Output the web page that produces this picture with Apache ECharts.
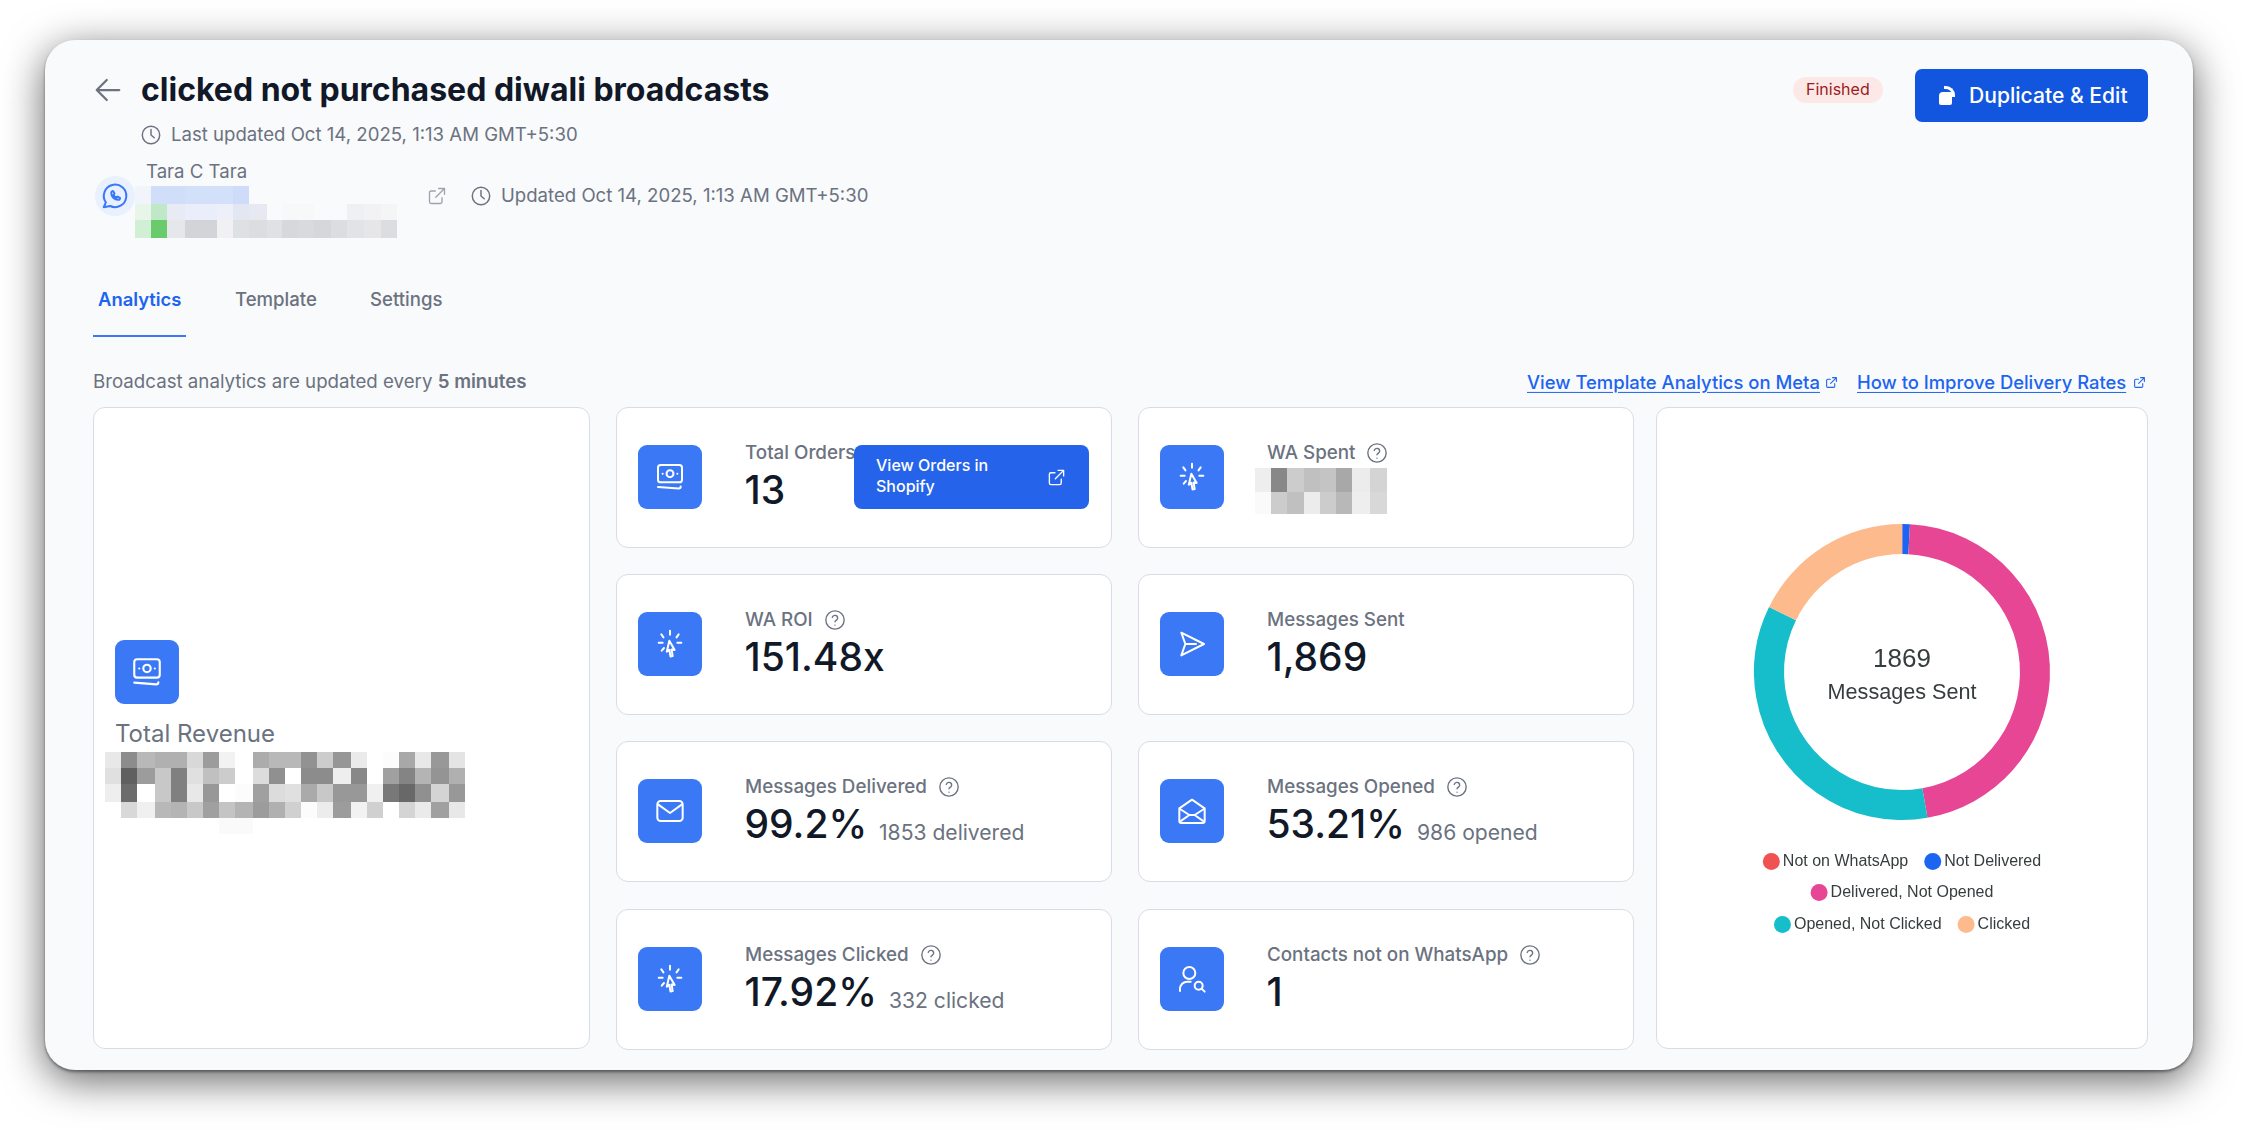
<!DOCTYPE html>
<html>
<head>
<meta charset="utf-8">
<title>clicked not purchased diwali broadcasts</title>
<script src="https://cdn.jsdelivr.net/npm/echarts@6/dist/echarts.min.js"></script>
<style>
html,body{margin:0;padding:0;background:#fff;width:2248px;height:1130px;overflow:hidden;font-family:Inter,sans-serif;}
#panel{position:absolute;left:45px;top:40px;width:2148px;height:1030px;background:#f9fafb;border-radius:30px;
  box-shadow:0 2px 3px rgba(0,0,0,.4),0 10px 42px rgba(0,0,0,.62);}
#page{position:absolute;left:0;top:0;width:2248px;height:1130px;}
.t{position:absolute;white-space:nowrap;transform:translateY(-50%);line-height:1.2;}
.box{position:absolute;box-sizing:border-box;}
.card{background:#fff;border:1.5px solid #d8dce4;border-radius:12px;}
.tile{background:#3b78f6;border-radius:9px;}
.ic{position:absolute;fill:none;stroke-linecap:round;stroke-linejoin:round;}
#chart{position:absolute;left:1657px;top:408px;width:490px;height:640px;}
</style>
</head>
<body>
<div id="panel"></div>
<div id="page"></div>
<div class="box card" style="left:1656px;top:407px;width:492px;height:642px;"></div>
<div id="chart"></div>
<script>
// data
var deliveryLabels = ['Not on WhatsApp', 'Not Delivered', 'Delivered, Not Opened', 'Opened, Not Clicked', 'Clicked'];
var deliveryValues = [1, 15, 867, 654, 332];
var deliveryColors = ['#F05252', '#1C64F2', '#E74694', '#16BDCA', '#FDBA8C'];
var totalSent = 1869;
var centerLabel = 'Messages Sent';

var cardLabels = ['Total Orders', 'WA Spent', 'WA ROI', 'Messages Sent', 'Messages Delivered', 'Messages Opened', 'Messages Clicked', 'Contacts not on WhatsApp'];
var cardValues = ['13', '', '151.48x', '1,869', '99.2%', '53.21%', '17.92%', '1'];
var cardNotes = ['', '', '', '', '1853 delivered', '986 opened', '332 clicked', ''];
var cardIcons = ['money', 'click', 'click', 'send', 'mail', 'open', 'click', 'user'];
var cardHelp = [false, true, true, false, true, true, true, true];
var cardNoteX = [0, 0, 0, 0, 879, 1417, 889, 0];

// blurred-out values in the screenshot, grey level per cell
var revenueBlur = [
  'e8 8c b8 b0 b0 d8 9c f2 ff ac b8 b8 92 cc 96 ea ff fc a8 e8 98 e4',
  'e0 60 9c c8 80 e0 c0 cc ff dc 90 ff 8c 8c ee 88 ff a0 84 b4 94 b0',
  'ee 6c ff c8 80 e8 98 ff fc a0 dc e0 aa c8 98 98 f0 78 68 90 d4 98',
  'ff d8 f0 b8 b4 c8 a0 c4 b4 9c b0 d0 fc ec 9c f2 d0 ff d4 ea a0 e8',
  'ff ff ff ff ff ff ff fa fa ff ff ff ff ff ff ff ff ff ff ff ff ff'
];
var spentBlur = [
  'ee 88 cc c0 c4 a8 ec d4',
  'fa cc c0 ec cc b8 ee d8'
];
var accountBlur = [
  ['#f1f4fb','#d0defa','#d0defa','#d3e0fa','#d3e0fa','#cfdcf9','#f9fafb','#f9fafb','#f9fafb','#f9fafb','#f9fafb','#f9fafb','#f9fafb','#f9fafb','#f9fafb'],
  ['#e8f6ea','#bfe9c6','#e8ebf3','#e9eefa','#edf0f8','#e3e7f1','#e6e9f2','#f9fafb','#f7f8f9','#f8f8f9','#f9fafb','#f9fafb','#eff0f2','#f2f2f4','#f5f5f6'],
  ['#d0efd4','#69cb6b','#e6e7ea','#d2d4d8','#f1f1f3','#dfe0e3','#dcdde0','#e0e1e4','#d6d8dc','#d9dadd','#d6d7da','#dcdde0','#e2e3e6','#e6e6e9','#dcdde0']
];

var icons = {
  back: '<path d="M21 12H3M11 4l-8 8 8 8"/>',
  clock: '<circle cx="12" cy="12" r="9.5"/><path d="M12 6v6l3.5 3"/>',
  link: '<path d="M14 3h7v7M10.5 13.5 21 3M18 14v5a2 2 0 0 1-2 2H5a2 2 0 0 1-2-2V8a2 2 0 0 1 2-2h5"/>',
  help: '<circle cx="12" cy="12" r="10"/><path d="M9 9.2a3 3 0 0 1 5.9.8c0 2-2.9 2.6-2.9 4"/><path d="M12 17.6h.01"/>',
  money: '<rect x="3" y="3" width="18" height="13" rx="2"/><circle cx="12" cy="9.5" r="2.6"/><path d="M6.5 9.5h.01M17.5 9.5h.01M3 19.5l15.5 1.2c1 0 1.5-.6 1.5-1.5"/>',
  click: '<path d="M12 2v3M5.5 4.8l1.6 2.2M18.5 4.8 16.9 7M3.5 11h3M17.5 11h3M5.8 17l1.7-2"/><path d="M11.5 9.5l4 7-2.300-.4.8 5-1.600.3-.9-5-1.900 1.400z"/>',
  send: '<path d="M4 3.5 21 12 4 20.5 7 12zM7 12h8"/>',
  mail: '<rect x="2.5" y="4.5" width="19" height="15" rx="2.5"/><path d="m3 7 9 6.5L21 7"/>',
  open: '<path d="M2.5 10 12 3.500l9.500 6.500v9.500a1.500 1.500 0 0 1-1.500 1.500H4a1.500 1.500 0 0 1-1.500-1.500z"/><path d="M3 10.500l7 4.500h4l7-4.500M3 20l7-5M21 20l-7-5"/>',
  user: '<circle cx="10" cy="7.5" r="4.5"/><path d="M3 21v-1.5A5.500 5.500 0 0 1 8.500 14h2.500"/><circle cx="17" cy="17" r="3"/><path d="m19.200 19.200 2.300 2.300"/>',
  wa: '<path d="M3 21l1.700-3.900a9 9 0 1 1 3.400 2.900z"/><path d="M9 9.500c0 3 2.500 5.500 5.500 5.500.8 0 1.500-.7 1.500-1.500l-2-1-1 .8c-.9-.4-1.800-1.300-2.200-2.200l.8-1-1-2C9.700 8 9 8.700 9 9.500z"/>'
};

var page = document.getElementById('page');

function txt(x, cy, s, size, color, weight, extra) {
  var d = document.createElement('div');
  d.className = 't';
  d.style.cssText = 'left:' + x + 'px;top:' + cy + 'px;font-size:' + size + 'px;color:' + color + ';font-weight:' + (weight || 400) + ';' + (extra || '');
  d.innerHTML = s;
  page.appendChild(d);
  return d;
}
function box(x, y, w, h, cls, css) {
  var d = document.createElement('div');
  d.className = 'box ' + (cls || '');
  d.style.cssText = 'left:' + x + 'px;top:' + y + 'px;width:' + w + 'px;height:' + h + 'px;' + (css || '');
  page.appendChild(d);
  return d;
}
function icon(name, x, y, size, color, sw) {
  var d = document.createElement('div');
  d.innerHTML = '<svg class="ic" viewBox="0 0 24 24" style="left:' + x + 'px;top:' + y + 'px;width:' + size + 'px;height:' + size + 'px;stroke:' + color + ';stroke-width:' + (sw || 1.7) + '">' + icons[name] + '</svg>';
  page.appendChild(d.firstChild);
}
function blur(edgesY, edgesX, rows) {
  rows.forEach(function (row, r) {
    row.forEach(function (c, i) {
      box(edgesX[i], edgesY[r], edgesX[i + 1] - edgesX[i], edgesY[r + 1] - edgesY[r], '', 'background:' + c);
    });
  });
}
function grey(list) {
  return list.map(function (s) {
    return s.split(' ').map(function (v) { return '#' + v + v + v; });
  });
}

// header
icon('back', 93, 75, 30, '#6b7280', 1.8);
txt(141, 90, 'clicked not purchased diwali broadcasts', 32, '#111827', 700);
icon('clock', 140, 124, 22, '#6b7280', 1.6);
txt(171, 134, 'Last updated Oct 14, 2025, 1:13 AM GMT+5:30', 18.6, '#6b7280', 400);
txt(146, 171, 'Tara C Tara', 18.6, '#6b7280', 400);
box(95, 176, 40, 40, '', 'background:#e9f0fe;border-radius:50%');
icon('wa', 100, 181, 30, '#3b78f6', 1.6);
blur([186, 204, 220, 238], [135, 151, 167, 185, 217, 233, 249, 267, 282, 298, 314, 331, 347, 364, 381, 397], accountBlur);
icon('link', 427, 186, 20, '#9ca3af', 1.6);
icon('clock', 470, 185, 22, '#6b7280', 1.6);
txt(501, 195, 'Updated Oct 14, 2025, 1:13 AM GMT+5:30', 18.6, '#6b7280', 400);
box(1793, 77, 90, 26, '', 'background:#fde8e8;border-radius:13px');
txt(1806, 89.5, 'Finished', 16, '#9b1c1c', 400);
box(1915, 69, 233, 53, '', 'background:#1256e0;border-radius:7px');
box(1939, 92, 13, 13, '', 'background:#fff;border-radius:4px 1px 2px 2px');
txt(1969, 95.5, 'Duplicate &amp; Edit', 21.1, '#fff', 500);
box(1944, 86, 11, 11, '', 'border-top:3.5px solid #fff;border-right:3.5px solid #fff;border-radius:0 9px 0 0');

// tabs
txt(98, 299, 'Analytics', 18.4, '#1c64f2', 600);
txt(235, 299, 'Template', 18.6, '#6b7280', 500);
txt(370, 299, 'Settings', 18.6, '#6b7280', 500);
box(93, 335, 93, 2, '', 'background:#3b78f6');

txt(93, 382, 'Broadcast analytics are updated every <b style="font-weight:600">5 minutes</b>', 18.7, '#6b7280', 400);
txt(1527, 382, 'View Template Analytics on Meta', 18.45, '#1c64f2', 500, 'text-decoration:underline;text-underline-offset:3px');
icon('link', 1825, 376, 13, '#1c64f2', 2);
txt(1857, 382, 'How to Improve Delivery Rates', 18.4, '#1c64f2', 500, 'text-decoration:underline;text-underline-offset:3px');
icon('link', 2133, 376, 13, '#1c64f2', 2);

// revenue card
box(93, 407, 497, 642, 'card');
box(115, 640, 64, 64, 'tile');
icon('money', 130, 655, 34, '#fff', 1.5);
txt(115, 734, 'Total Revenue', 24, '#6b7280', 400);
var revenueEdges = [105, 121, 137, 155, 171, 187, 203, 219, 235, 253, 269, 285, 301, 317, 333, 351, 367, 383, 399, 415, 431, 449, 465];
blur([752, 768, 784, 802, 818, 834], revenueEdges, grey(revenueBlur));

// kpi cards
var colX = [616, 1138];
var rowY = [407, 574, 741, 909];
cardLabels.forEach(function (label, i) {
  var cx = colX[i % 2], cy = rowY[Math.floor(i / 2)];
  box(cx, cy, 496, 141, 'card');
  box(cx + 22, cy + 38, 64, 64, 'tile');
  icon(cardIcons[i], cx + 38, cy + 54, 32, '#fff', 1.5);
  var lab = txt(cx + 129, cy + 46, label, 18.8, '#6b7280', 500);
  if (cardHelp[i]) icon('help', cx + 129 + lab.offsetWidth + 11, cy + 35, 22, '#6b7280', 1.5);
  if (cardValues[i]) txt(cx + 128.5, cy + 83, cardValues[i], 39, '#111827', 500);
  if (cardNotes[i]) txt(cardNoteX[i], cy + 92, cardNotes[i], 21.1, '#6b7280', 400);
});
box(854, 445, 235, 64, '', 'background:#2563eb;border-radius:8px');
txt(876, 466, 'View Orders in', 16, '#fff', 500);
txt(876, 487, 'Shopify', 16, '#fff', 500);
icon('link', 1047, 468, 19, '#fff', 1.7);
blur([468, 492, 514], [1255, 1271, 1287, 1304, 1320, 1336, 1352, 1370, 1387], grey(spentBlur));

// donut
var myChart = echarts.init(document.getElementById('chart'));
var pieData = deliveryLabels.map(function (name, i) {
  return {name: name, value: deliveryValues[i], itemStyle: {color: deliveryColors[i]}};
});
function legendRow(names, top) {
  return {
    data: names,
    top: top,
    left: 'center',
    icon: 'circle',
    itemWidth: 17,
    itemHeight: 17,
    itemGap: 16,
    selectedMode: false,
    textStyle: {fontFamily: 'Liberation Sans', fontSize: 16, color: '#373d3f', padding: [0, 0, 0, -2]}
  };
}
var option = {
  animation: false,
  backgroundColor: 'transparent',
  title: [
    {text: String(totalSent), left: 'center', top: 234, textStyle: {fontFamily: 'Liberation Sans', fontSize: 26, fontWeight: 'normal', color: '#373d3f'}},
    {text: centerLabel, left: 'center', top: 269, textStyle: {fontFamily: 'Liberation Sans', fontSize: 21.6, fontWeight: 'normal', color: '#373d3f'}}
  ],
  legend: [
    legendRow(deliveryLabels.slice(0, 2), 440),
    legendRow(deliveryLabels.slice(2, 3), 471),
    legendRow(deliveryLabels.slice(3), 503)
  ],
  series: [{
    type: 'pie',
    radius: [118, 148],
    center: [245, 264],
    startAngle: 90,
    label: {show: false},
    labelLine: {show: false},
    silent: true,
    data: pieData
  }]
};
myChart.setOption(option);
</script>
</body>
</html>
